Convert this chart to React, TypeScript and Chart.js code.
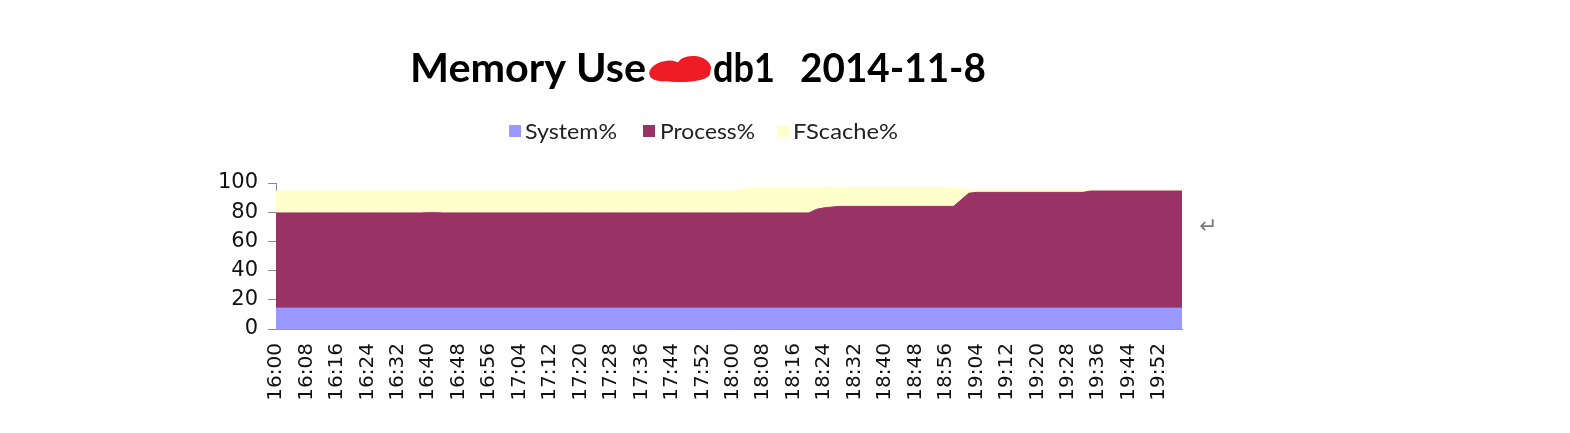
import React, { useEffect, useRef } from "react";
import { Chart, registerables } from "chart.js";

Chart.register(...registerables);

// Categories: one sample every 2 minutes, 16:00 .. 19:58
const timeLabels = [
  "16:00", "16:02", "16:04", "16:06", "16:08", "16:10", "16:12", "16:14", "16:16", "16:18",
  "16:20", "16:22", "16:24", "16:26", "16:28", "16:30", "16:32", "16:34", "16:36", "16:38",
  "16:40", "16:42", "16:44", "16:46", "16:48", "16:50", "16:52", "16:54", "16:56", "16:58",
  "17:00", "17:02", "17:04", "17:06", "17:08", "17:10", "17:12", "17:14", "17:16", "17:18",
  "17:20", "17:22", "17:24", "17:26", "17:28", "17:30", "17:32", "17:34", "17:36", "17:38",
  "17:40", "17:42", "17:44", "17:46", "17:48", "17:50", "17:52", "17:54", "17:56", "17:58",
  "18:00", "18:02", "18:04", "18:06", "18:08", "18:10", "18:12", "18:14", "18:16", "18:18",
  "18:20", "18:22", "18:24", "18:26", "18:28", "18:30", "18:32", "18:34", "18:36", "18:38",
  "18:40", "18:42", "18:44", "18:46", "18:48", "18:50", "18:52", "18:54", "18:56", "18:58",
  "19:00", "19:02", "19:04", "19:06", "19:08", "19:10", "19:12", "19:14", "19:16", "19:18",
  "19:20", "19:22", "19:24", "19:26", "19:28", "19:30", "19:32", "19:34", "19:36", "19:38",
  "19:40", "19:42", "19:44", "19:46", "19:48", "19:50", "19:52", "19:54", "19:56", "19:58",
];

const systemPct = [
  14.3, 14.3, 14.3, 14.3, 14.3, 14.3, 14.3, 14.3, 14.3, 14.3,
  14.3, 14.3, 14.3, 14.3, 14.3, 14.3, 14.3, 14.3, 14.3, 14.3,
  14.3, 14.3, 14.3, 14.3, 14.3, 14.3, 14.3, 14.3, 14.3, 14.3,
  14.3, 14.3, 14.3, 14.3, 14.3, 14.3, 14.3, 14.3, 14.3, 14.3,
  14.3, 14.3, 14.3, 14.3, 14.3, 14.3, 14.3, 14.3, 14.3, 14.3,
  14.3, 14.3, 14.3, 14.3, 14.3, 14.3, 14.3, 14.3, 14.3, 14.3,
  14.3, 14.3, 14.3, 14.3, 14.3, 14.3, 14.3, 14.3, 14.3, 14.3,
  14.3, 14.3, 14.3, 14.3, 14.3, 14.3, 14.3, 14.3, 14.3, 14.3,
  14.3, 14.3, 14.3, 14.3, 14.3, 14.3, 14.3, 14.3, 14.3, 14.3,
  14.3, 14.3, 14.3, 14.3, 14.3, 14.3, 14.3, 14.3, 14.3, 14.3,
  14.3, 14.3, 14.3, 14.3, 14.3, 14.3, 14.3, 14.3, 14.3, 14.3,
  14.3, 14.3, 14.3, 14.3, 14.3, 14.3, 14.3, 14.3, 14.3, 14.3,
];

const processPct = [
  65.2, 65.2, 65.2, 65.2, 65.2, 65.2, 65.2, 65.2, 65.2, 65.2,
  65.2, 65.2, 65.2, 65.2, 65.2, 65.2, 65.2, 65.2, 65.2, 65.2,
  65.4, 65.4, 65.2, 65.2, 65.2, 65.2, 65.2, 65.2, 65.2, 65.2,
  65.2, 65.2, 65.2, 65.2, 65.2, 65.2, 65.2, 65.2, 65.2, 65.2,
  65.2, 65.2, 65.2, 65.2, 65.2, 65.2, 65.2, 65.2, 65.2, 65.2,
  65.2, 65.2, 65.2, 65.2, 65.2, 65.2, 65.2, 65.2, 65.2, 65.2,
  65.2, 65.2, 65.2, 65.2, 65.2, 65.2, 65.2, 65.2, 65.2, 65.2,
  65.2, 67.7, 68.7, 69.2, 69.7, 69.7, 69.7, 69.7, 69.7, 69.7,
  69.7, 69.7, 69.7, 69.7, 69.7, 69.7, 69.7, 69.7, 69.7, 69.7,
  74.2, 78.7, 79.3, 79.3, 79.3, 79.3, 79.3, 79.3, 79.3, 79.3,
  79.3, 79.3, 79.3, 79.3, 79.3, 79.3, 79.3, 80.2, 80.2, 80.2,
  80.2, 80.2, 80.2, 80.2, 80.2, 80.2, 80.2, 80.2, 80.2, 80.2,
];

const fscachePct = [
  14.9, 14.9, 14.9, 14.9, 14.9, 14.9, 14.9, 14.9, 14.9, 14.9,
  14.9, 14.9, 14.9, 14.9, 14.9, 14.9, 14.9, 14.9, 14.9, 14.9,
  14.7, 14.7, 14.9, 14.9, 14.9, 14.9, 14.9, 14.9, 14.9, 14.9,
  14.9, 14.9, 14.9, 14.9, 14.9, 14.9, 14.9, 14.9, 14.9, 14.9,
  14.9, 14.9, 14.9, 14.9, 14.9, 14.9, 14.9, 14.9, 14.9, 14.9,
  14.9, 14.9, 14.9, 14.9, 14.9, 14.9, 14.9, 14.9, 14.9, 14.9,
  14.9, 16.0, 17.0, 17.5, 17.5, 17.5, 17.5, 17.5, 17.5, 17.5,
  17.5, 15.0, 14.0, 13.5, 13.0, 13.0, 13.0, 13.0, 13.0, 13.0,
  13.0, 13.0, 13.0, 13.0, 13.0, 13.0, 13.0, 13.0, 13.0, 13.0,
  7.5, 2.5, 1.9, 1.9, 1.9, 1.9, 1.9, 1.9, 1.9, 1.9,
  1.9, 1.9, 1.9, 1.9, 1.9, 1.9, 1.9, 1.0, 1.0, 1.0,
  1.0, 1.0, 1.0, 1.0, 1.0, 1.0, 1.0, 1.0, 1.0, 1.0,
];

const yTicks = [0, 20, 40, 60, 80, 100];
const seriesNames = ["System%", "Process%", "FScache%"];
const seriesColors = ["#9999FF", "#993366", "#FFFFCC"];
const titleParts = ["Memory Use", "db1", "2014-11-8"];
const returnMark = "\u21B5";

function fitText(ctx: CanvasRenderingContext2D, text: string, x: number, y: number, w: number) {
  const m = ctx.measureText(text).width;
  ctx.save();
  ctx.translate(x, y);
  ctx.scale(w / m, 1);
  ctx.fillText(text, 0, 0);
  ctx.restore();
}

export default function App() {
  const ref = useRef<HTMLCanvasElement>(null);

  useEffect(() => {
    const canvas = ref.current;
    if (!canvas) return;

    const decor = {
      id: "decor",
      afterDraw(chart: any) {
        const ctx: CanvasRenderingContext2D = chart.ctx;
        ctx.save();
        // Title
        ctx.fillStyle = "#000";
        ctx.textBaseline = "alphabetic";
        ctx.textAlign = "left";
        ctx.font = "bold 41px Lato";
        fitText(ctx, titleParts[0], 410, 82, 236);
        fitText(ctx, titleParts[1], 713, 82, 62);
        fitText(ctx, titleParts[2], 800, 82, 186);
        // red redaction scribble
        ctx.fillStyle = "#EE1C24";
        ctx.beginPath();
        ctx.ellipse(666, 71, 17, 10, -0.2, 0, Math.PI * 2);
        ctx.ellipse(694, 67, 17, 11, 0.1, 0, Math.PI * 2);
        ctx.ellipse(680, 74, 30, 8, 0, 0, Math.PI * 2);
        ctx.fill();

        // Legend
        const ds = chart.data.datasets;
        const boxes = [509, 643, 777];
        const textX = [525, 660, 793];
        const textW = [92, 95, 105];
        ctx.font = "22px Lato";
        for (let i = 0; i < ds.length; i++) {
          ctx.fillStyle = ds[i].backgroundColor;
          ctx.fillRect(boxes[i], 125, 12, 12);
          ctx.fillStyle = "#222";
          fitText(ctx, ds[i].label, textX[i], 139, textW[i]);
        }

        // Word return mark
        ctx.fillStyle = "#777";
        ctx.font = "22px 'DejaVu Sans'";
        ctx.fillText(returnMark, 1199, 233);
        ctx.restore();
      },
    };

    const series = [systemPct, processPct, fscachePct];
    const chart = new Chart(canvas, {
      type: "line",
      data: {
        labels: timeLabels,
        datasets: series.map((d, i) => ({
          label: seriesNames[i],
          data: d,
          backgroundColor: seriesColors[i],
          borderColor: seriesColors[i],
          borderWidth: 1,
          fill: i === 0 ? "origin" : "-1",
          pointRadius: 0,
          tension: 0,
        })),
      },
      options: {
        responsive: false,
        animation: false,
        events: [],
        layout: { padding: { left: 200, right: 388, top: 183, bottom: 0 } },
        plugins: {
          legend: { display: false },
          title: { display: false },
          tooltip: { enabled: false },
        },
        scales: {
          x: {
            offset: false,
            grid: { display: false, drawTicks: false },
            border: { display: true, color: "#999" },
            ticks: {
              autoSkip: false,
              maxRotation: 90,
              minRotation: 90,
              padding: 14,
              color: "#111",
              font: { family: "'DejaVu Sans'", size: 20 },
              callback: (_v: any, i: number) => (i % 4 === 0 ? timeLabels[i] : null),
            },
            afterFit: (s: any) => {
              s.height = 104;
            },
          },
          y: {
            stacked: true,
            min: 0,
            max: 100,
            afterBuildTicks: (s: any) => {
              s.ticks = yTicks.map((v) => ({ value: v }));
            },
            grid: { display: true, drawOnChartArea: false, drawTicks: true, tickLength: 8, color: "#888" },
            border: { display: true, color: "#888" },
            ticks: {
              padding: 10,
              color: "#111",
              font: { family: "'DejaVu Sans'", size: 21 },
            },
            afterFit: (s: any) => {
              s.width = 76;
            },
          },
        },
      },
      plugins: [decor],
    });

    return () => chart.destroy();
  }, []);

  return (
    <div style={{ position: "fixed", left: 0, top: 0, width: 1570, height: 433, background: "#fff" }}>
      <canvas ref={ref} width={1570} height={433} style={{ display: "block", width: 1570, height: 433 }} />
    </div>
  );
}
